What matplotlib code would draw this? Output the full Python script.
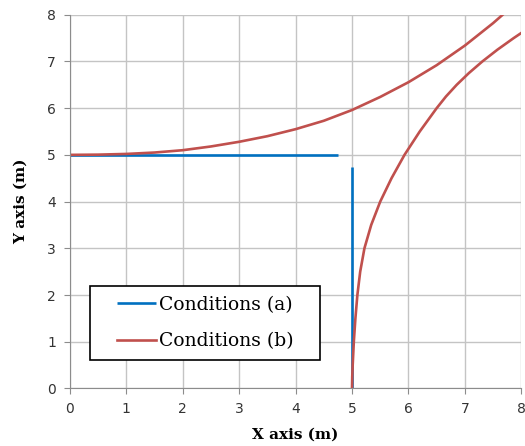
import numpy as np
import matplotlib.pyplot as plt
from matplotlib.patches import Rectangle

# Conditions (a): straight path, with a gap at the corner
a_x = [0, 4.75, np.nan, 5, 5]
a_y = [5, 5, np.nan, 4.74, 0]

# Conditions (b): upper curve
b1_x = [0, 0.5, 1, 1.5, 2, 2.5, 3, 3.5, 4, 4.5, 5, 5.5, 6, 6.5, 7, 7.5, 7.67]
b1_y = [5.0, 5.005, 5.02, 5.05, 5.1, 5.18, 5.28, 5.40, 5.55, 5.73, 5.96, 6.24, 6.555, 6.92, 7.34, 7.82, 8.0]

# Conditions (b): lower curve
b2_x = [5.0, 5.004, 5.012, 5.032, 5.06, 5.095, 5.145, 5.22, 5.34, 5.5, 5.7, 5.93, 6.2,
        6.5, 6.665, 6.855, 7.07, 7.31, 7.575, 7.865, 8.0]
b2_y = [0, 0.25, 0.5, 1, 1.5, 2, 2.5, 3, 3.5, 4, 4.5, 5, 5.5,
        6.0, 6.25, 6.5, 6.75, 7.0, 7.25, 7.5, 7.61]

blue = '#0070C0'
red = '#C0504D'

fig = plt.figure(figsize=(5.25, 4.46), dpi=100)
ax = fig.add_axes([0.133, 0.129, 0.86, 0.838])

ax.plot(a_x, a_y, color=blue, lw=1.9, label='Conditions (a)', solid_capstyle='butt')
ax.plot(b1_x, b1_y, color=red, lw=1.9, label='Conditions (b)')
ax.plot(b2_x, b2_y, color=red, lw=1.9)

ax.set_xlim(0, 8)
ax.set_ylim(0, 8)
ax.set_xticks(range(9))
ax.set_yticks(range(9))
ax.grid(True, color='#c4c4c4', lw=1.0)
ax.set_axisbelow(True)
for s in ['top', 'right']:
    ax.spines[s].set_visible(False)
for s in ['left', 'bottom']:
    ax.spines[s].set_color('#8c8c8c')
ax.tick_params(colors='#8c8c8c', labelcolor='#333333', labelsize=10, length=4, pad=6)

ax.set_xlabel('X axis (m)', family='DejaVu Serif', fontweight='bold', fontsize=11, labelpad=8)
ax.set_ylabel('Y axis (m)', family='DejaVu Serif', fontweight='bold', fontsize=11, labelpad=14)

# legend box drawn by hand so padding can differ in x and y
ax.add_patch(Rectangle((0.045, 0.076), 0.509, 0.198, transform=ax.transAxes, fill=True,
                       facecolor='white', edgecolor='black', lw=1.2, zorder=5, clip_on=False))
leg = ax.legend(loc='center', bbox_to_anchor=(0.2995, 0.175), prop={'family': 'DejaVu Serif', 'size': 13.5},
                frameon=False, handlelength=2.1, handletextpad=0.15, borderpad=0.0, labelspacing=1.0)
leg.set_zorder(6)

fig.savefig('out.png', dpi=100)
